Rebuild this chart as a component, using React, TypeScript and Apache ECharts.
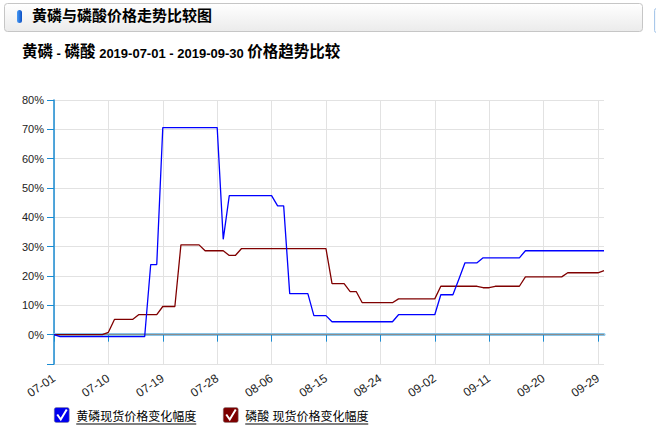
import * as echarts from 'echarts';
import { useEffect, useRef } from 'react';

const FONT = '"Liberation Sans", Arial, "Noto Sans CJK SC", sans-serif';

// 2019-07-01 ~ 2019-09-30，逐日
const months = [
  { m: '07', days: 31 },
  { m: '08', days: 31 },
  { m: '09', days: 30 },
];
const dates: string[] = [];
months.forEach(({ m, days }) => {
  for (let d = 1; d <= days; d++) dates.push(`${m}-${String(d).padStart(2, '0')}`);
});

// 黄磷现货价格变化幅度 (%)
const yellowPhosphorus = [
  0,
  -0.7, -0.7, -0.7, -0.7, -0.7, -0.7, -0.7, -0.7, -0.7, -0.7, -0.7, -0.7, -0.7, -0.7, -0.7,
  23.9, 23.9,
  70.6, 70.6, 70.6, 70.6, 70.6, 70.6, 70.6, 70.6, 70.6, 70.6,
  32.5,
  47.4, 47.4, 47.4, 47.4, 47.4, 47.4, 47.4, 47.4,
  43.9, 43.9,
  14.0, 14.0, 14.0, 14.0,
  6.5, 6.5, 6.5,
  4.4, 4.4, 4.4, 4.4, 4.4, 4.4, 4.4, 4.4, 4.4, 4.4, 4.4,
  6.8, 6.8, 6.8, 6.8, 6.8, 6.8, 6.8,
  13.6, 13.6, 13.6,
  19.0,
  24.5, 24.5, 24.5,
  26.2, 26.2, 26.2, 26.2, 26.2, 26.2, 26.2,
  28.6, 28.6, 28.6, 28.6, 28.6, 28.6, 28.6, 28.6, 28.6, 28.6, 28.6, 28.6, 28.6, 28.6,
];

// 磷酸 现货价格变化幅度 (%)
const phosphoricAcid = [
  0, 0, 0, 0, 0, 0, 0, 0, 0,
  0.8,
  5.2, 5.2, 5.2, 5.2,
  6.8, 6.8, 6.8, 6.8,
  9.6, 9.6, 9.6,
  30.6, 30.6, 30.6, 30.6,
  28.6, 28.6, 28.6, 28.6,
  27.0, 27.0,
  29.3, 29.3, 29.3, 29.3, 29.3, 29.3, 29.3, 29.3, 29.3, 29.3, 29.3, 29.3, 29.3, 29.3, 29.3,
  17.4, 17.4, 17.4,
  14.7, 14.7,
  10.9, 10.9, 10.9, 10.9, 10.9, 10.9,
  12.2, 12.2, 12.2, 12.2, 12.2, 12.2, 12.2,
  16.5, 16.5, 16.5, 16.5, 16.5, 16.5, 16.5,
  16.0, 16.0,
  16.5, 16.5, 16.5, 16.5, 16.5,
  19.7, 19.7, 19.7, 19.7, 19.7, 19.7, 19.7,
  21.1, 21.1, 21.1, 21.1, 21.1, 21.1,
  21.8,
];

const seriesNames = ['黄磷现货价格变化幅度', '磷酸 现货价格变化幅度'];
const seriesColors = ['#0000ff', '#800000'];

// 图例（带勾选框 + 下划线）
const legendItem = (x: number, color: string, name: string, textWidth: number) => ({
  type: 'group',
  left: x,
  top: 407,
  children: [
    {
      type: 'rect',
      shape: { x: 0, y: 0, width: 15, height: 15, r: 2 },
      style: { fill: color, stroke: '#888', lineWidth: 0.5 },
    },
    {
      type: 'polyline',
      shape: { points: [[3, 7], [6.5, 12], [12.5, 2]] },
      style: { stroke: '#fff', lineWidth: 2, fill: null },
    },
    {
      type: 'text',
      x: 22,
      y: 9,
      style: {
        text: name,
        font: `12px ${FONT}`,
        fill: '#000',
        verticalAlign: 'middle',
      },
    },
    {
      type: 'line',
      shape: { x1: 22, y1: 16.5, x2: 22 + textWidth, y2: 16.5 },
      style: { stroke: '#000', lineWidth: 1 },
    },
  ],
});

export default function App() {
  const container = useRef<HTMLDivElement | null>(null);

  useEffect(() => {
    document.body.style.margin = '0';
    if (!container.current) return;
    const chart = echarts.init(container.current, null, { renderer: 'svg' });
    chart.setOption({
      animation: false,
      textStyle: { fontFamily: FONT },
      grid: { left: 54, right: 52, top: 100, bottom: 68, containLabel: false },
      tooltip: { trigger: 'axis' },
      xAxis: {
        type: 'category',
        data: dates,
        boundaryGap: false,
        axisLine: { lineStyle: { color: '#86c4e8', width: 3 } },
        axisTick: { interval: 8, length: 7, lineStyle: { color: '#1a8bd2', width: 1 } },
        axisLabel: { interval: 8, rotate: 34, fontSize: 12, color: '#222', margin: 13 },
        splitLine: { show: true, interval: 8, lineStyle: { color: '#e2e2e2' } },
      },
      yAxis: {
        type: 'value',
        min: -10,
        max: 80,
        interval: 10,
        axisLine: { show: true, lineStyle: { color: '#1a8bd2', width: 1.5 } },
        axisTick: { show: true, length: 7, lineStyle: { color: '#1a8bd2' } },
        axisLabel: {
          fontSize: 11,
          color: '#222',
          margin: 10,
          formatter: (v: number) => (v === -10 ? '' : `${v}%`),
        },
        splitLine: { lineStyle: { color: '#e2e2e2' } },
      },
      series: [
        {
          name: seriesNames[0],
          type: 'line',
          data: yellowPhosphorus,
          symbol: 'none',
          lineStyle: { color: seriesColors[0], width: 1.3 },
          itemStyle: { color: seriesColors[0] },
          z: 3,
          markLine: {
            silent: true,
            symbol: 'none',
            label: { show: false },
            lineStyle: { color: '#8c8c8c', type: 'solid', width: 1 },
            data: [{ yAxis: 0 }],
            z: 1,
          },
        },
        {
          name: seriesNames[1],
          type: 'line',
          data: phosphoricAcid,
          symbol: 'none',
          lineStyle: { color: seriesColors[1], width: 1.3 },
          itemStyle: { color: seriesColors[1] },
          z: 2,
        },
      ],
      graphic: [
        {
          type: 'rect',
          left: 4,
          top: 3,
          shape: { width: 638, height: 28, r: 3 },
          style: {
            fill: new echarts.graphic.LinearGradient(0, 0, 0, 1, [
              { offset: 0, color: '#ffffff' },
              { offset: 1, color: '#ebebeb' },
            ]),
            stroke: '#c6c6c6',
            lineWidth: 1,
          },
        },
        {
          type: 'rect',
          left: 654,
          top: 8,
          shape: { width: 6, height: 24, r: 2 },
          style: { fill: '#f4f8fc', stroke: '#a9c8ea', lineWidth: 1 },
        },
        {
          type: 'rect',
          left: 17,
          top: 10,
          shape: { width: 5, height: 13, r: 2.5 },
          style: {
            fill: new echarts.graphic.LinearGradient(1, 0, 0, 0, [
              { offset: 0, color: '#0b4fc4' },
              { offset: 1, color: '#4a9cf5' },
            ]),
          },
        },
        {
          type: 'text',
          left: 32,
          top: 8,
          style: {
            text: '黄磷与磷酸价格走势比较图',
            font: `bold 15px ${FONT}`,
            fill: '#000',
          },
        },
        {
          type: 'text',
          left: 22,
          top: 44,
          style: {
            text: '{c|黄磷}{n| - }{c|磷酸}{n| 2019-07-01 - 2019-09-30 }{c|价格趋势比较}',
            rich: {
              c: { font: `bold 15.5px ${FONT}`, fill: '#000', verticalAlign: 'bottom' },
              n: { font: `bold 13px ${FONT}`, fill: '#000', verticalAlign: 'bottom' },
            },
          },
        },
        legendItem(54, '#0000ee', seriesNames[0], 120),
        legendItem(223, '#7d0000', seriesNames[1], 123),
      ],
    });
    return () => chart.dispose();
  }, []);

  return <div ref={container} style={{ width: 656, height: 432 }} />;
}
